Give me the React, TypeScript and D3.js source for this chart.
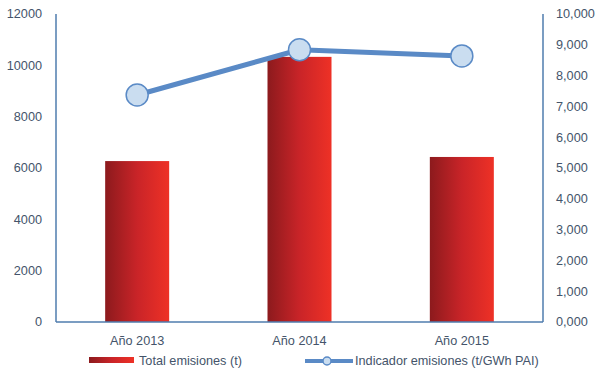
import React from "react";
import * as d3 from "d3";

const categories = ["Año 2013", "Año 2014", "Año 2015"];
const totalEmisiones = [6270, 10330, 6430];
const indicador = [7370, 8840, 8640];
const leftTicks = [0, 2000, 4000, 6000, 8000, 10000, 12000];
const rightTicks = [0, 1000, 2000, 3000, 4000, 5000, 6000, 7000, 8000, 9000, 10000];

const W = 595;
const H = 372;
const m = { left: 56, right: 543, top: 14, bottom: 322 };
const font = "'Liberation Sans', Arial, sans-serif";
const fs = 12.7;
const textColor = "#44546A";
const axisColor = "#4F7DAE";
const lineColor = "#5A8AC6";

export default function App() {
  const xc = d3.scalePoint().domain(categories).range([m.left, m.right]).padding(0.5);
  const yL = d3.scaleLinear().domain([0, 12000]).range([m.bottom, m.top]);
  const yR = d3.scaleLinear().domain([0, 10000]).range([m.bottom, m.top]);
  const rightLabel = (v: number) => `${Math.floor(v / 1000)},${String(v % 1000).padStart(3, "0")}`;
  const line = d3.line<number>().x((_, i) => xc(categories[i])!).y((d) => yR(d));
  const bw = 64;

  return (
    <svg width={W} height={H} style={{ position: "absolute", left: 0, top: 0, background: "#fff" }}>
      <defs>
        <linearGradient id="barGrad" x1="0" x2="1" y1="0" y2="0">
          <stop offset="0%" stopColor="#8C1A1D" />
          <stop offset="50%" stopColor="#C92428" />
          <stop offset="100%" stopColor="#EE3126" />
        </linearGradient>
      </defs>
      {totalEmisiones.map((v, i) => {
        const cx = xc(categories[i])!;
        return (
          <rect key={i} x={cx - bw / 2} y={yL(v)} width={bw} height={m.bottom - yL(v)} fill="url(#barGrad)" />
        );
      })}
      <line x1={m.left} x2={m.left} y1={m.top} y2={m.bottom} stroke={axisColor} strokeWidth={1.5} />
      <line x1={m.right} x2={m.right} y1={m.top} y2={m.bottom} stroke={axisColor} strokeWidth={1.5} />
      <line x1={m.left} x2={m.right} y1={m.bottom} y2={m.bottom} stroke={axisColor} strokeWidth={1.5} />
      {leftTicks.map((t) => (
        <text key={t} x={42} y={yL(t)} dy="0.35em" textAnchor="end" fontFamily={font} fontSize={fs} fill={textColor}>
          {t}
        </text>
      ))}
      {rightTicks.map((t) => (
        <text key={t} x={556} y={yR(t)} dy="0.35em" textAnchor="start" fontFamily={font} fontSize={fs} fill={textColor}>
          {rightLabel(t)}
        </text>
      ))}
      {categories.map((c) => (
        <text key={c} x={xc(c)!} y={341} dy="0.35em" textAnchor="middle" fontFamily={font} fontSize={fs} fill={textColor}>
          {c}
        </text>
      ))}
      <path d={line(indicador)!} fill="none" stroke={lineColor} strokeWidth={5} strokeLinejoin="round" />
      {indicador.map((v, i) => (
        <circle key={i} cx={xc(categories[i])!} cy={yR(v)} r={11} fill="#CADDF0" stroke={lineColor} strokeWidth={1.5} />
      ))}
      <rect x={89} y={357} width={45} height={6} fill="url(#barGrad)" />
      <text x={139} y={361} dy="0.35em" fontFamily={font} fontSize={fs} fill={textColor}>
        Total emisiones (t)
      </text>
      <line x1={305} x2={353} y1={361} y2={361} stroke={lineColor} strokeWidth={4} />
      <circle cx={327} cy={361} r={4} fill="#CADDF0" stroke={lineColor} strokeWidth={1.5} />
      <text x={355} y={361} dy="0.35em" fontFamily={font} fontSize={fs} fill={textColor}>
        Indicador emisiones (t/GWh PAI)
      </text>
    </svg>
  );
}
